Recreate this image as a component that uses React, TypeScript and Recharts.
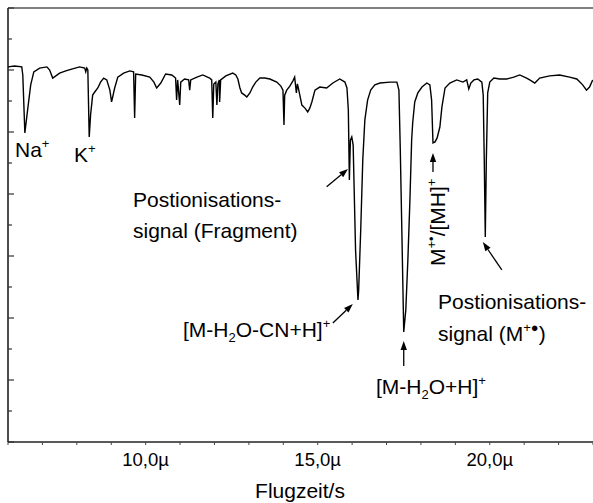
import React from "react";
import { LineChart, Line, XAxis, YAxis, ReferenceLine } from "recharts";

// flight time in µs, signal in arbitrary units (peaks point downwards)
const flightTime = [
  6.0, 6.19, 6.4, 6.43, 6.49, 6.57, 6.66, 6.75, 6.92, 7.13, 7.21, 7.3, 7.39, 7.5, 7.68, 7.85,
  8.08, 8.23, 8.26, 8.29, 8.32, 8.36, 8.4, 8.46, 8.52, 8.61, 8.69, 8.78, 8.87, 8.96, 9.01, 9.1,
  9.19, 9.36, 9.54, 9.65, 9.68, 9.71, 9.89, 10.12, 10.24, 10.32, 10.44, 10.58, 10.76, 10.87,
  10.9, 10.93, 10.99, 11.02, 11.13, 11.25, 11.28, 11.31, 11.49, 11.66, 11.86, 11.92, 11.95,
  11.98, 12.04, 12.07, 12.1, 12.14, 12.15, 12.18, 12.33, 12.53, 12.62, 12.68, 12.74, 12.79,
  12.88, 12.94, 13.03, 13.11, 13.2, 13.32, 13.46, 13.61, 13.81, 13.93, 13.99, 14.02, 14.04,
  14.1, 14.19, 14.28, 14.33, 14.38, 14.41, 14.45, 14.54, 14.63, 14.71, 14.77, 14.83, 14.92,
  15.06, 15.26, 15.44, 15.64, 15.79, 15.85, 15.89, 15.92, 15.95, 15.99, 16.03, 16.1, 16.17,
  16.19, 16.25, 16.31, 16.37, 16.45, 16.54, 16.66, 16.81, 17.1, 17.3, 17.36, 17.4, 17.45,
  17.5, 17.56, 17.62, 17.68, 17.73, 17.76, 17.82, 17.91, 18.03, 18.17, 18.26, 18.31, 18.35,
  18.41, 18.47, 18.55, 18.61, 18.7, 18.84, 19.04, 19.22, 19.33, 19.39, 19.45, 19.54, 19.65,
  19.77, 19.81, 19.84, 19.87, 19.9, 19.94, 20.0, 20.12, 20.29, 20.49, 20.7, 20.87, 21.07,
  21.16, 21.31, 21.45, 21.74, 22.03, 22.32, 22.53, 22.7, 22.81, 22.9, 22.99,
];

const signal = [
  12.1, 12.13, 12.1, 11.84, 9.97, 10.71, 11.52, 11.94, 12.06, 12.1, 12.0, 11.74, 11.81, 11.9,
  11.97, 12.03, 12.1, 12.06, 11.94, 12.06, 12.0, 9.84, 10.55, 11.19, 11.29, 11.42, 11.61,
  11.74, 11.68, 11.35, 10.97, 11.42, 11.77, 11.9, 11.97, 11.94, 10.45, 11.87, 11.84, 11.77,
  11.61, 11.42, 11.58, 11.87, 11.84, 11.74, 11.03, 11.68, 10.87, 11.61, 11.71, 11.68, 11.35,
  11.68, 11.77, 11.84, 11.74, 11.68, 10.45, 11.55, 11.61, 10.87, 11.55, 11.68, 10.97, 11.68,
  11.81, 11.9, 11.84, 11.71, 11.42, 11.26, 11.19, 11.13, 11.26, 11.45, 11.61, 11.74, 11.74,
  11.71, 11.61, 11.48, 11.35, 10.23, 11.19, 11.35, 11.48, 11.65, 11.77, 11.26, 11.55, 11.35,
  10.87, 10.77, 10.65, 10.77, 10.97, 11.35, 11.45, 11.42, 11.58, 11.71, 11.61, 11.42, 10.71,
  8.45, 9.74, 9.84, 9.58, 6.19, 4.58, 4.9, 6.84, 9.1, 10.39, 11.03, 11.35, 11.52, 11.58,
  11.61, 11.61, 11.35, 9.42, 6.52, 3.55, 4.26, 5.87, 7.81, 9.74, 10.29, 10.97, 11.26, 11.45,
  11.58, 11.52, 11.03, 9.65, 9.68, 9.81, 10.16, 10.81, 11.42, 11.58, 11.68, 11.61, 11.68,
  11.39, 11.58, 11.68, 11.71, 11.61, 11.19, 9.1, 6.61, 9.1, 11.26, 11.61, 11.74, 11.71, 11.71,
  11.77, 11.84, 11.74, 11.68, 11.58, 11.74, 11.81, 11.84, 11.77, 11.71, 11.52, 11.35, 11.45,
  11.68,
];

const timeTicks = [6, 7, 8, 9, 10, 11, 12, 13, 14, 15, 16, 17, 18, 19, 20, 21, 22, 23];
const signalTicks = [0, 1, 2, 3, 4, 5, 6, 7, 8, 9, 10, 11, 12, 13, 14];

// annotation arrows, tail -> tip, in data units
const arrows = [
  { from: { x: 15.26, y: 8.23 }, to: { x: 15.88, y: 8.81 } },
  { from: { x: 15.44, y: 3.84 }, to: { x: 16.02, y: 4.45 } },
  { from: { x: 17.5, y: 2.45 }, to: { x: 17.5, y: 3.26 } },
  { from: { x: 18.35, y: 8.71 }, to: { x: 18.35, y: 9.32 } },
  { from: { x: 20.35, y: 5.55 }, to: { x: 19.8, y: 6.45 } },
];

const data = flightTime.map((t, i) => ({ t, s: signal[i] }));

const FONT = "'Liberation Sans', Arial, sans-serif";
const PLOT_LEFT = 8;

const SignalTick = (props: any) => {
  const { y, payload } = props;
  const len = payload.value % 2 === 0 ? 6 : 4;
  return (
    <line x1={PLOT_LEFT} x2={PLOT_LEFT + len} y1={y} y2={y} stroke="#333" strokeWidth={1.2} />
  );
};

const Arrow = (props: any) => {
  const { x1, y1, x2, y2 } = props;
  const ang = Math.atan2(y2 - y1, x2 - x1);
  const len = 9;
  const half = 3.2;
  const bx = x2 - len * Math.cos(ang);
  const by = y2 - len * Math.sin(ang);
  const px = -Math.sin(ang) * half;
  const py = Math.cos(ang) * half;
  return (
    <g>
      <line x1={x1} y1={y1} x2={bx} y2={by} stroke="#000" strokeWidth={1.3} />
      <polygon points={`${x2},${y2} ${bx + px},${by + py} ${bx - px},${by - py}`} fill="#000" />
    </g>
  );
};

const Sup = ({ children }: { children: React.ReactNode }) => (
  <tspan dy={-9} fontSize={13}>
    {children}
  </tspan>
);

export default function App() {
  return (
    <div
      style={{
        position: "absolute",
        left: 0,
        top: 0,
        width: 593,
        height: 503,
        overflow: "hidden",
        background: "#fff",
        fontFamily: FONT,
      }}
    >
      <LineChart width={600} height={503} data={data} margin={{ top: 8, right: 7, bottom: 0, left: 0 }}>
        <XAxis
          dataKey="t"
          type="number"
          domain={[6, 23]}
          allowDataOverflow
          ticks={timeTicks}
          interval={0}
          height={61}
          axisLine={{ stroke: "#222", strokeWidth: 1.3 }}
          tickLine={{ stroke: "#444" }}
          tickSize={3}
          tickMargin={8}
          tick={{ fill: "#000", fontSize: 18.5, fontFamily: FONT }}
          tickFormatter={(v: number) => (v % 5 === 0 ? `${v},0µ` : "")}
        />
        <YAxis
          type="number"
          domain={[0, 14]}
          ticks={signalTicks}
          interval={0}
          width={PLOT_LEFT}
          axisLine={{ stroke: "#000", strokeWidth: 1.4 }}
          tickLine={false}
          tick={SignalTick}
        />
        <ReferenceLine y={14} stroke="#000" strokeWidth={1.2} />
        <Line
          type="linear"
          dataKey="s"
          stroke="#000"
          strokeWidth={1.4}
          dot={false}
          isAnimationActive={false}
        />
        {arrows.map((a, i) => (
          <ReferenceLine key={i} segment={[a.from, a.to]} shape={Arrow} />
        ))}
      </LineChart>

      <svg
        width={593}
        height={503}
        style={{ position: "absolute", left: 0, top: 0, pointerEvents: "none" }}
        fontFamily={FONT}
        fontSize={21}
        fill="#000"
      >
        <text x={15} y={157}>
          Na<Sup>+</Sup>
        </text>
        <text x={74} y={162}>
          K<Sup>+</Sup>
        </text>

        <text x={133} y={207}>Postionisations-</text>
        <text x={133} y={238}>signal (Fragment)</text>

        <text x={183} y={337}>
          [M-H<tspan dy={5} fontSize={13}>2</tspan>
          <tspan dy={-5}>O-CN+H]</tspan>
          <Sup>+</Sup>
        </text>

        <text x={376} y={394}>
          [M-H<tspan dy={5} fontSize={13}>2</tspan>
          <tspan dy={-5}>O+H]</tspan>
          <Sup>+</Sup>
        </text>

        <text x={445} y={266} transform="rotate(-90 445 266)">
          M<Sup>+•</Sup>
          <tspan dy={9}>/[MH]</tspan>
          <Sup>+</Sup>
        </text>

        <text x={438} y={309}>Postionisations-</text>
        <text x={438} y={341}>
          signal (M<Sup>+●</Sup>
          <tspan dy={9}>)</tspan>
        </text>

        <text x={300} y={498} textAnchor="middle" fontSize={21}>
          Flugzeit/s
        </text>
      </svg>
    </div>
  );
}
